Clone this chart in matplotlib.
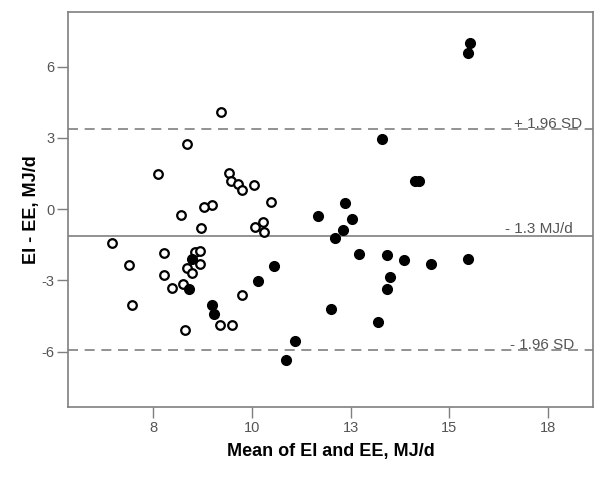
import matplotlib
matplotlib.use("Agg")
import matplotlib.pyplot as plt

plt.rcParams['font.family'] = ['Liberation Sans', 'DejaVu Sans']

# Open circles (one group)
open_x = [9.21, 8.36, 7.62, 9.42, 9.47, 9.63, 9.74, 10.06, 10.49, 8.98, 8.78,
          8.19, 8.71, 10.08, 10.28, 10.29, 6.46, 7.78, 8.565, 8.67, 6.89,
          8.34, 8.67, 8.48, 7.78, 8.24, 7.96, 6.95, 9.74, 9.19, 9.49, 8.30]
open_y = [4.10, 2.72, 1.46, 1.54, 1.20, 1.05, 0.81, 1.02, 0.31, 0.17, 0.08,
          -0.24, -0.80, -0.77, -0.55, -0.97, -1.43, -1.83, -1.81, -1.76, -2.35,
          -2.46, -2.32, -2.70, -2.79, -3.15, -3.33, -4.04, -3.62, -4.86, -4.87, -5.10]

# Filled circles (other group)
filled_x = [15.53, 15.47, 13.29, 14.13, 14.24, 12.35, 11.67, 12.52, 12.31,
            12.09, 12.70, 13.43, 13.85, 14.53, 15.46, 13.50, 13.42, 12.01,
            13.19, 8.47, 10.55, 10.14, 8.40, 8.99, 9.03, 11.08, 10.87]
filled_y = [7.01, 6.57, 2.95, 1.20, 1.20, 0.25, -0.31, -0.40, -0.87,
            -1.22, -1.90, -1.95, -2.16, -2.32, -2.09, -2.85, -3.38, -4.20,
            -4.75, -2.08, -2.41, -3.02, -3.36, -4.03, -4.42, -5.53, -6.35]

# Mean difference and limits of agreement
mean_diff = -1.12
upper_loa = 3.37
lower_loa = -5.95

x_ticks = [7.5, 10, 12.5, 15, 17.5]
x_tick_labels = ["8", "10", "13", "15", "18"]
y_ticks = [-6, -3, 0, 3, 6]
y_tick_labels = ["-6", "-3", "0", "3", "6"]

line_col = '#7f7f7f'
text_col = '#555555'

fig = plt.figure(figsize=(6, 4.8), dpi=100)
ax = fig.add_axes([0.113, 0.153, 0.8755, 0.8217])

ax.axhline(upper_loa, color=line_col, linewidth=1.2, linestyle=(0, (6, 4)))
ax.axhline(mean_diff, color=line_col, linewidth=1.2)
ax.axhline(lower_loa, color=line_col, linewidth=1.2, linestyle=(0, (6, 4)))

ax.plot(open_x, open_y, 'o', markerfacecolor='white', markeredgecolor='black',
        markersize=6.2, markeredgewidth=1.6, linestyle='none', zorder=3)
ax.plot(filled_x, filled_y, 'o', color='black', markersize=7,
        linestyle='none', zorder=3)

ax.text(18.36, upper_loa + 0.04, "+ 1.96 SD", ha='right', va='baseline',
        fontsize=11, color=text_col)
ax.text(18.12, mean_diff + 0.13, "- 1.3 MJ/d", ha='right', va='baseline',
        fontsize=11, color=text_col)
ax.text(18.17, lower_loa + 0.08, "- 1.96 SD", ha='right', va='baseline',
        fontsize=11, color=text_col)

ax.set_xlim(5.33, 18.64)
ax.set_ylim(-8.31, 8.29)
ax.set_xticks(x_ticks)
ax.set_xticklabels(x_tick_labels)
ax.set_yticks(y_ticks)
ax.set_yticklabels(y_tick_labels)
ax.tick_params(direction='out', length=8, width=1, color=line_col,
               labelcolor=text_col, labelsize=10.5)
ax.tick_params(axis='y', pad=1.5)
ax.tick_params(axis='x', pad=2.5)
for side in ax.spines.values():
    side.set_color(line_col)
    side.set_linewidth(1.2)

ax.set_xlabel("Mean of EI and EE, MJ/d", fontsize=13, fontweight='bold', labelpad=6)
ax.set_ylabel("EI - EE, MJ/d", fontsize=13, fontweight='bold', labelpad=1)

plt.savefig("out.png", dpi=100)
